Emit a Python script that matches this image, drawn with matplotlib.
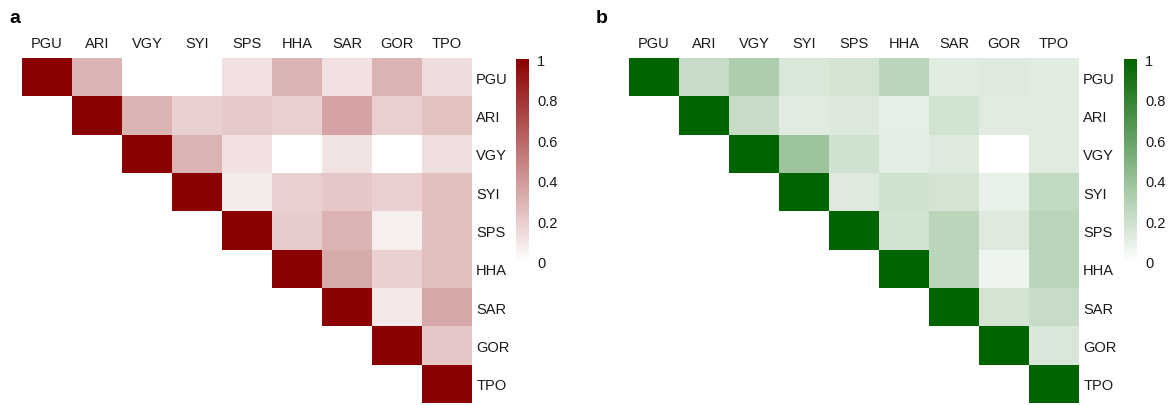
import numpy as np
import matplotlib
matplotlib.use('Agg')
import matplotlib.pyplot as plt
from matplotlib.colors import LinearSegmentedColormap

plt.rcParams['font.family'] = ['Liberation Sans', 'DejaVu Sans']

sites = ['PGU', 'ARI', 'VGY', 'SYI', 'SPS', 'HHA', 'SAR', 'GOR', 'TPO']

# upper triangle rows (diagonal first)
red_rows = [
    [1, 0.30, 0.00, 0.00, 0.12, 0.30, 0.12, 0.30, 0.14],
    [1, 0.30, 0.18, 0.21, 0.19, 0.36, 0.19, 0.24],
    [1, 0.30, 0.12, 0.00, 0.11, 0.00, 0.13],
    [1, 0.08, 0.19, 0.22, 0.19, 0.25],
    [1, 0.20, 0.30, 0.07, 0.25],
    [1, 0.33, 0.18, 0.25],
    [1, 0.09, 0.34],
    [1, 0.22],
    [1],
]
green_rows = [
    [1, 0.22, 0.32, 0.15, 0.17, 0.27, 0.12, 0.13, 0.12],
    [1, 0.22, 0.12, 0.14, 0.10, 0.18, 0.12, 0.12],
    [1, 0.38, 0.19, 0.11, 0.13, 0.00, 0.12],
    [1, 0.13, 0.19, 0.17, 0.09, 0.24],
    [1, 0.18, 0.27, 0.13, 0.27],
    [1, 0.27, 0.07, 0.27],
    [1, 0.17, 0.22],
    [1, 0.15],
    [1],
]
cbar_ticks = [0, 0.2, 0.4, 0.6, 0.8, 1]
cbar_labels = ['0', '0.2', '0.4', '0.6', '0.8', '1']


def to_matrix(rows):
    n = len(rows)
    m = np.full((n, n), np.nan)
    for i, row in enumerate(rows):
        m[i, i:] = row
    return np.ma.masked_invalid(m)


def draw_panel(fig, rect, cbar_rect, rows, top_color, letter, letter_x):
    cmap = LinearSegmentedColormap.from_list('c', ['white', top_color])
    ax = fig.add_axes(rect)
    im = ax.imshow(to_matrix(rows), cmap=cmap, vmin=0, vmax=1,
                   aspect='auto', interpolation='nearest')
    n = len(sites)
    ax.set_xticks(range(n))
    ax.set_xticklabels(sites, fontsize=10.5, color='#1a1a1a')
    ax.set_yticks(range(n))
    ax.set_yticklabels(sites, fontsize=10.5, color='#1a1a1a')
    ax.xaxis.tick_top()
    ax.yaxis.tick_right()
    ax.tick_params(length=0)
    ax.tick_params(axis='x', pad=6)
    ax.tick_params(axis='y', pad=3)
    for s in ax.spines.values():
        s.set_visible(False)

    cax = fig.add_axes(cbar_rect)
    cb = fig.colorbar(im, cax=cax, ticks=cbar_ticks)
    cb.ax.set_yticklabels(cbar_labels, fontsize=10.5, color='#1a1a1a')
    cb.ax.tick_params(length=0, pad=6)
    cb.outline.set_visible(False)

    fig.text(letter_x, 0.955, letter, fontsize=14, fontweight='bold',
             ha='left', va='center')


fig = plt.figure(figsize=(11.7, 4.06), dpi=100)

draw_panel(fig, [22/1170, 2/406, 450/1170, 345/406],
           [516/1170, 143/406, 13/1170, 203/406],
           red_rows, '#8B0000', 'a', 9/1170)
draw_panel(fig, [629/1170, 2/406, 450/1170, 345/406],
           [1124/1170, 143/406, 13/1170, 203/406],
           green_rows, '#006400', 'b', 596/1170)

fig.savefig('out.png', dpi=100)
